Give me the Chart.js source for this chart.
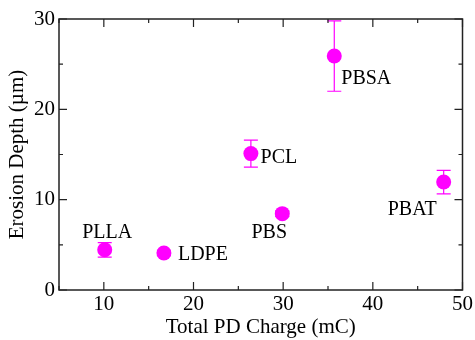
<!DOCTYPE html>
<html>
<head>
<meta charset="utf-8">
<script src="https://cdn.jsdelivr.net/npm/chart.js@4.4.0/dist/chart.umd.min.js"></script>
<style>
  html, body { margin: 0; padding: 0; background: #fff; }
  #wrap { width: 475px; height: 340px; }
</style>
</head>
<body>
<div id="wrap"><canvas id="chart-erosion"></canvas></div>
<script>
// Profundidade de erosão x carga total de DP, por polímero
const materiais = ["PLLA", "LDPE", "PCL", "PBSA", "PBS", "PBAT"];
const cargaPD = [10.1, 16.7, 26.4, 35.7, 29.9, 47.9]; // mC
const erosao = [4.45, 4.1, 15.1, 25.9, 8.45, 11.95]; // µm
const erroErosao = [0.8, 0.3, 1.5, 3.9, 0.3, 1.3];

const xTicks = [10, 20, 30, 40, 50];
const yTicks = [0, 10, 20, 30];

// deslocamento dos rótulos em px (dx, dy) a partir do centro do ponto
const rotuloOffset = [
  [2.5, -17],
  [39, 1.5],
  [28, 4.5],
  [32, 22.5],
  [-13, 19],
  [-31.5, 27.5],
];

const serif = "'Liberation Serif', 'Times New Roman', serif";
const magenta = "#ff00ff";

// moldura + ticks internos (maiores e menores) nos quatro lados
const framePlugin = {
  id: "frame",
  afterDraw(chart) {
    const { ctx, chartArea: a } = chart;
    const xs = chart.scales.x;
    const ys = chart.scales.y;
    ctx.save();
    ctx.lineWidth = 1.5;
    ctx.strokeStyle = "#222";
    ctx.strokeRect(a.left, a.top, a.right - a.left, a.bottom - a.top);

    ctx.lineWidth = 1.2;
    for (let v = xs.min; v <= xs.max; v += 5) {
      const px = xs.getPixelForValue(v);
      const len = v % 10 === 0 ? 8 : 4;
      ctx.beginPath();
      ctx.moveTo(px, a.bottom);
      ctx.lineTo(px, a.bottom - len);
      ctx.moveTo(px, a.top);
      ctx.lineTo(px, a.top + len);
      ctx.stroke();
    }
    for (let v = ys.min; v <= ys.max; v += 5) {
      const py = ys.getPixelForValue(v);
      const len = v % 10 === 0 ? 8 : 4;
      ctx.beginPath();
      ctx.moveTo(a.left, py);
      ctx.lineTo(a.left + len, py);
      ctx.moveTo(a.right, py);
      ctx.lineTo(a.right - len, py);
      ctx.stroke();
    }
    ctx.restore();
  },
};

// barras de erro verticais (atrás dos pontos)
const errorBarPlugin = {
  id: "errorBars",
  beforeDatasetsDraw(chart) {
    const { ctx } = chart;
    const xs = chart.scales.x;
    const ys = chart.scales.y;
    ctx.save();
    ctx.strokeStyle = magenta;
    ctx.lineWidth = 1.2;
    cargaPD.forEach((x, i) => {
      const px = xs.getPixelForValue(x);
      const top = ys.getPixelForValue(erosao[i] + erroErosao[i]);
      const bot = ys.getPixelForValue(erosao[i] - erroErosao[i]);
      ctx.beginPath();
      ctx.moveTo(px, top);
      ctx.lineTo(px, bot);
      ctx.moveTo(px - 7, top);
      ctx.lineTo(px + 7, top);
      ctx.moveTo(px - 7, bot);
      ctx.lineTo(px + 7, bot);
      ctx.stroke();
    });
    ctx.restore();
  },
  afterDatasetsDraw(chart) {
    // nomes dos materiais
    const { ctx } = chart;
    const meta = chart.getDatasetMeta(0);
    ctx.save();
    ctx.fillStyle = "#000";
    ctx.font = `20px ${serif}`;
    ctx.textAlign = "center";
    ctx.textBaseline = "middle";
    meta.data.forEach((pt, i) => {
      const [dx, dy] = rotuloOffset[i];
      ctx.fillText(materiais[i], pt.x + dx, pt.y + dy);
    });
    ctx.restore();
  },
};

const ctx = document.getElementById("chart-erosion").getContext("2d");
new Chart(ctx, {
  type: "scatter",
  data: {
    datasets: [
      {
        label: "Erosion Depth",
        data: cargaPD.map((x, i) => ({ x, y: erosao[i] })),
        backgroundColor: magenta,
        borderWidth: 0,
        pointRadius: 7.5,
        pointHoverRadius: 7.5,
      },
    ],
  },
  options: {
    responsive: true,
    maintainAspectRatio: false,
    animation: false,
    layout: { padding: { top: 19, right: 11, left: 0, bottom: 0 } },
    plugins: {
      legend: { display: false },
      tooltip: { enabled: false },
    },
    scales: {
      x: {
        type: "linear",
        min: 5,
        max: 50,
        afterBuildTicks: (axis) => {
          axis.ticks = xTicks.map((v) => ({ value: v }));
        },
        afterFit: (scale) => {
          scale.height = 50;
        },
        grid: { display: false, drawTicks: false },
        border: { display: false },
        ticks: {
          color: "#000",
          padding: 2,
          maxRotation: 0,
          font: { family: serif, size: 21 },
        },
        title: {
          display: true,
          text: "Total PD Charge (mC)",
          color: "#000",
          padding: { top: 0, bottom: 0 },
          font: { family: serif, size: 21 },
        },
      },
      y: {
        type: "linear",
        min: 0,
        max: 30,
        afterBuildTicks: (axis) => {
          axis.ticks = yTicks.map((v) => ({ value: v }));
        },
        afterFit: (scale) => {
          scale.width = 59;
        },
        grid: { display: false, drawTicks: false },
        border: { display: false },
        ticks: {
          color: "#000",
          padding: 4,
          font: { family: serif, size: 21 },
        },
        title: {
          display: true,
          text: "Erosion Depth (µm)",
          color: "#000",
          padding: { top: 5, bottom: 0 },
          font: { family: serif, size: 21 },
        },
      },
    },
  },
  plugins: [framePlugin, errorBarPlugin],
});
</script>
</body>
</html>
